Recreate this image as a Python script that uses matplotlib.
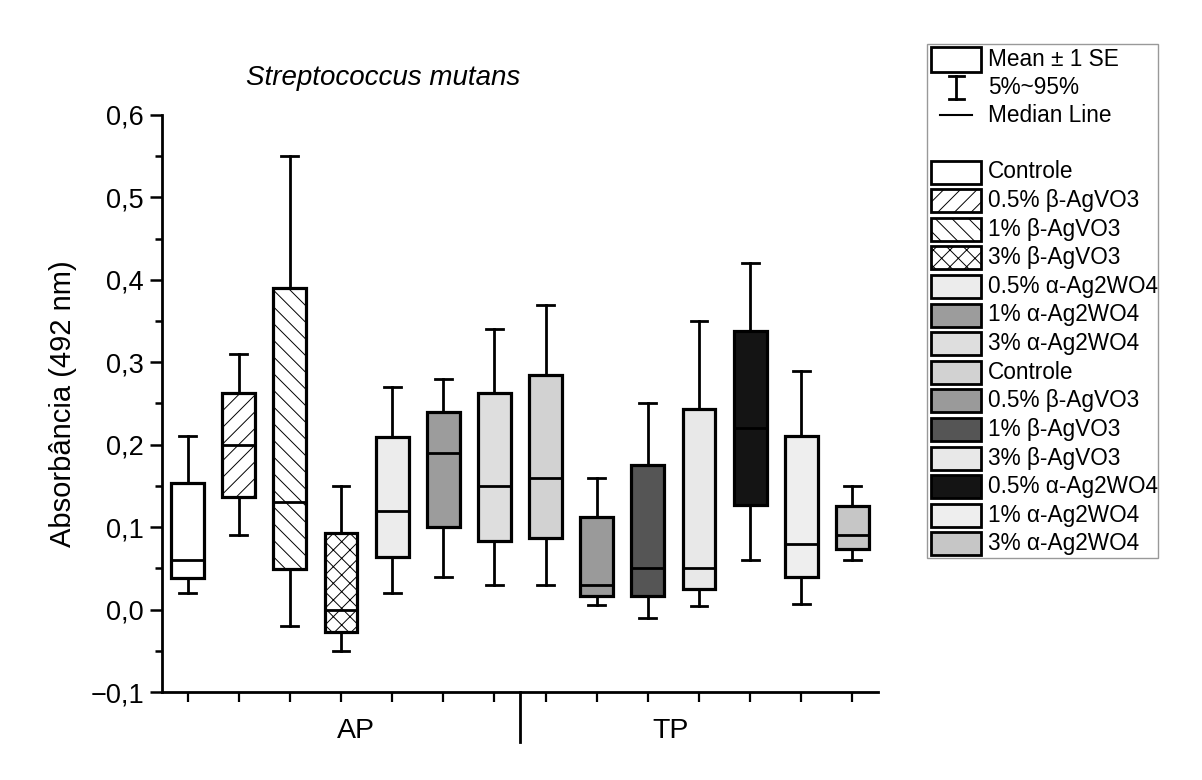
import matplotlib
matplotlib.use("Agg")
import matplotlib.pyplot as plt
from matplotlib.patches import Rectangle
from matplotlib.lines import Line2D
from matplotlib.ticker import MultipleLocator, FuncFormatter

plt.rcParams['font.family'] = ['Liberation Sans', 'DejaVu Sans']
plt.rcParams['hatch.linewidth'] = 0.7

# --- data (box = Mean +- 1 SE, whiskers = 5%~95%) ---
groups = ['AP', 'TP']
labels = ['Controle', '0.5% β-AgVO3', '1% β-AgVO3', '3% β-AgVO3',
          '0.5% α-Ag2WO4', '1% α-Ag2WO4', '3% α-Ag2WO4',
          'Controle', '0.5% β-AgVO3', '1% β-AgVO3', '3% β-AgVO3',
          '0.5% α-Ag2WO4', '1% α-Ag2WO4', '3% α-Ag2WO4']
whisker_hi = [0.21, 0.31, 0.55, 0.15, 0.27, 0.28, 0.34,
              0.37, 0.16, 0.25, 0.35, 0.42, 0.29, 0.15]
box_hi = [0.154, 0.263, 0.39, 0.093, 0.209, 0.24, 0.263,
          0.285, 0.112, 0.175, 0.243, 0.338, 0.21, 0.126]
median = [0.06, 0.20, 0.13, 0.0, 0.12, 0.19, 0.15,
          0.16, 0.03, 0.05, 0.05, 0.22, 0.08, 0.09]
box_lo = [0.038, 0.136, 0.049, -0.027, 0.064, 0.10, 0.083,
          0.087, 0.017, 0.017, 0.025, 0.127, 0.04, 0.073]
whisker_lo = [0.02, 0.09, -0.02, -0.05, 0.02, 0.04, 0.03,
              0.03, 0.006, -0.01, 0.004, 0.06, 0.007, 0.06]

# fill styles (grey tones stand for Origin's dotted patterns)
fills = ['white', 'white', 'white', 'white', '#ececec', '#9c9c9c', '#dedede',
         '#d2d2d2', '#9a9a9a', '#555555', '#e8e8e8', '#141414', '#eeeeee', '#c6c6c6']
hatches = ['', '//', '\\\\', 'xx', '', '', '', '', '', '', '', '', '', '']

fig = plt.figure(figsize=(12.02, 7.80), dpi=100)
ax = fig.add_axes([162 / 1202, 1 - 692 / 780, 716 / 1202, 577 / 780])

positions = list(range(1, len(labels) + 1))
stats = []
for i in range(len(labels)):
    stats.append({'med': median[i], 'q1': box_lo[i], 'q3': box_hi[i],
                  'whislo': whisker_lo[i], 'whishi': whisker_hi[i], 'fliers': []})

bp = ax.bxp(stats, positions=positions, widths=0.64, capwidths=0.33,
            patch_artist=True, showfliers=False,
            boxprops=dict(linewidth=2.3, edgecolor='black'),
            whiskerprops=dict(linewidth=2.0, color='black'),
            capprops=dict(linewidth=2.0, color='black'),
            medianprops=dict(linewidth=2.0, color='black'))
for patch, fc, h in zip(bp['boxes'], fills, hatches):
    patch.set_facecolor(fc)
    patch.set_hatch(h)

ax.set_xlim(0.5, 14.5)
ax.set_ylim(-0.1, 0.6)
ax.spines['top'].set_visible(False)
ax.spines['right'].set_visible(False)
ax.spines['left'].set_linewidth(2.0)
ax.spines['bottom'].set_linewidth(2.0)

ax.yaxis.set_major_locator(MultipleLocator(0.1))
ax.yaxis.set_minor_locator(MultipleLocator(0.05))
ax.yaxis.set_major_formatter(FuncFormatter(lambda v, p: ('%.1f' % v).replace('.', ',').replace('-', '\u2212')))
ax.tick_params(axis='y', which='major', direction='out', length=9, width=1.8, labelsize=19.5, pad=4)
ax.tick_params(axis='y', which='minor', direction='out', length=5, width=1.8)
ax.set_xticks(positions)
ax.set_xticklabels([])
ax.tick_params(axis='x', which='major', direction='out', length=7, width=1.6)

# group separator and group labels
ax.plot([7.5, 7.5], [0, -0.087], color='black', linewidth=2.0,
        transform=ax.get_xaxis_transform(), clip_on=False)
ax.text(4.3, -0.068, groups[0], transform=ax.get_xaxis_transform(),
        ha='center', va='center', fontsize=20.5)
ax.text(10.45, -0.068, groups[1], transform=ax.get_xaxis_transform(),
        ha='center', va='center', fontsize=20.5)

ax.set_ylabel('Absorbância (492 nm)', fontsize=21)
ax.yaxis.set_label_coords(-0.119, 0.5)
ax.text(0.309, 1.064, 'Streptococcus mutans', transform=ax.transAxes,
        ha='center', va='center', fontsize=20, style='italic')

# legend drawn in pixel space
lg = fig.add_axes([0, 0, 1, 1], zorder=5)
lg.set_xlim(0, 1202)
lg.set_ylim(780, 0)
lg.axis('off')
frame = Rectangle((927, 44), 231, 514, facecolor='white', edgecolor='#999999', linewidth=1.0)
lg.add_patch(frame)
fs = 16.3
tx = 988
lg.add_patch(Rectangle((931, 47), 50, 25, facecolor='white', edgecolor='black', linewidth=2.0))
lg.text(tx, 59, 'Mean ± 1 SE', fontsize=fs, va='center')
lg.add_line(Line2D([956, 956], [76, 99], color='black', linewidth=2.0))
lg.add_line(Line2D([949, 964], [76, 76], color='black', linewidth=2.0))
lg.add_line(Line2D([949, 964], [99, 99], color='black', linewidth=2.0))
lg.text(tx, 88, '5%~95%', fontsize=fs, va='center')
lg.add_line(Line2D([940, 972], [115, 115], color='black', linewidth=1.5))
lg.text(tx, 115, 'Median Line', fontsize=fs, va='center')
for i in range(len(labels)):
    yc = 172 + i * 28.6
    lg.add_patch(Rectangle((931, yc - 11.5), 50, 23, facecolor=fills[i], hatch=hatches[i],
                           edgecolor='black', linewidth=2.0))
    t = lg.text(tx, yc, labels[i], fontsize=fs, va='center')
    t.set_clip_path(frame)

fig.savefig('out.png', dpi=100)
